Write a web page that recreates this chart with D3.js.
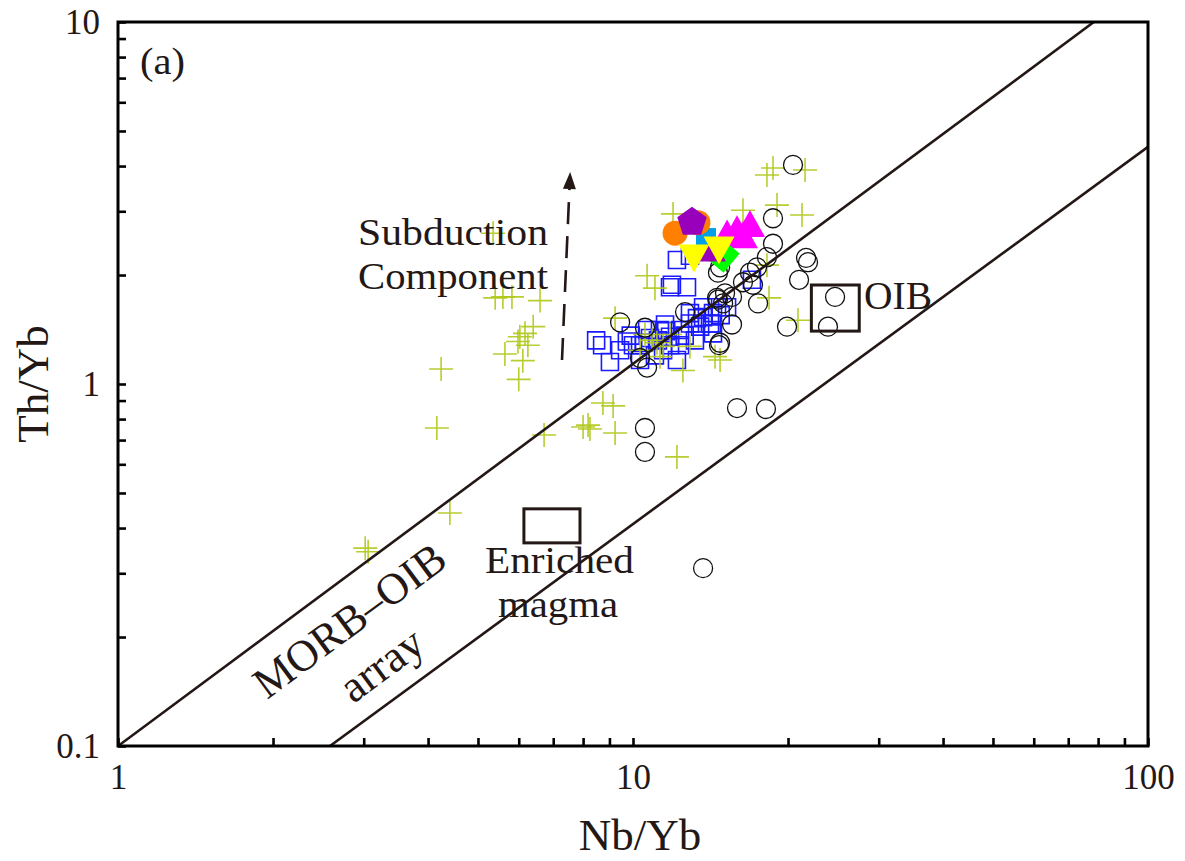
<!DOCTYPE html>
<html>
<head>
<meta charset="utf-8">
<script src="https://cdn.jsdelivr.net/npm/d3@7"></script>
<style>
  body { margin: 0; background: #fff; }
  text { font-family: "Liberation Serif", "Times New Roman", serif; fill: #231815; }
</style>
</head>
<body>
<svg id="chart" width="1185" height="861"></svg>
<script>
// ---- data: [Nb/Yb, Th/Yb] ----
const plusSamples = [
  [4.24,1.10],[4.16,0.756],[5.64,1.21],[6.00,1.03],[6.11,1.16],[6.03,1.35],[6.17,1.38],
  [6.40,1.44],[5.98,1.31],[6.25,1.28],[5.40,1.73],[5.59,1.74],[5.82,1.74],[6.60,1.70],
  [5.35,2.61],[6.72,0.723],[8.00,0.761],[8.18,0.770],[8.25,0.751],[8.74,0.886],[9.15,0.870],
  [9.23,0.732],[4.41,0.440],[3.06,0.344],[3.02,0.352],[12.17,0.629],[16.35,3.02],[10.65,1.99],
  [11.03,1.84],[11.96,2.95],[18.70,3.95],[18.20,3.78],[21.58,3.90],[19.04,3.12],[21.29,2.93],
  [18.37,1.73],[20.91,1.50],[18.20,2.13],[11.13,1.30],[11.44,1.27],[10.89,1.32],[11.28,1.19],
  [12.50,1.09],[14.43,1.19],[14.76,1.165],[9.23,1.52],[10.32,1.24],[11.80,1.37],[10.55,1.37],
  [12.90,1.27]
];
const squareSamples = [
  [8.48,1.32],[8.71,1.28],[9.02,1.15],[9.73,1.31],[10.0,1.28],[10.32,1.28],[10.79,1.34],
  [11.18,1.32],[11.44,1.24],[11.80,1.28],[12.17,1.165],[12.34,1.28],[12.90,1.47],[13.31,1.52],
  [13.68,1.53],[14.23,1.47],[14.30,1.38],[13.68,1.63],[14.56,1.63],[11.80,1.85],[12.73,1.85],
  [11.80,1.35],[11.28,1.41],[12.34,1.41],[12.90,1.57],[10.65,1.41],[12.17,2.20],[12.90,2.26],
  [11.90,1.88],[17.02,1.94],[15.23,1.63],[14.11,1.47],[14.30,1.57],[9.44,1.24],[11.03,1.20],
  [13.19,1.32],[10.32,1.165],[11.54,1.46],[9.90,1.36],[10.50,1.30],[11.60,1.40],[12.60,1.36],
  [13.50,1.44],[14.80,1.55]
];
const circleSamples = [
  [9.44,1.48],[10.55,1.43],[10.32,1.18],[10.65,1.11],[10.55,0.756],[10.55,0.649],[12.62,1.58],
  [14.56,1.73],[14.76,2.10],[14.62,2.03],[15.09,1.78],[14.62,1.71],[15.57,1.46],[14.76,1.30],
  [14.69,1.28],[15.92,0.858],[18.12,0.853],[13.68,0.310],[16.35,1.91],[16.87,2.03],[17.41,2.10],
  [18.20,2.24],[18.70,2.44],[18.70,2.87],[20.45,4.03],[21.68,2.23],[21.87,2.17],[21.01,1.94],
  [17.49,1.67],[19.91,1.44],[24.68,1.74],[23.91,1.44],[17.10,1.88],[14.96,1.67],[15.57,1.74]
];
const orangeCircles   = [[12.07,2.61],[13.37,2.79]];
const purplePentagons = [[13.02,2.80]];
const cyanSquares     = [[13.86,2.53]];
const yellowDownTris  = [[13.13,2.27],[14.69,2.39]];
const purpleTris      = [[14.23,2.32]];
const greenDiamonds   = [[14.89,2.27]];
const magentaTris     = [[15.23,2.56],[15.92,2.63],[16.87,2.72],[16.35,2.53]];

// reference array bounds and fields
const arrayLines = [
  { x1: 1, y1: 0.1, x2: 78.5, y2: 10 },
  { x1: 2.58, y1: 0.1, x2: 100, y2: 4.52 }
];
const fieldBoxes = [
  { x1: 6.14, x2: 7.89, y1: 0.364, y2: 0.452 },
  { x1: 22.2, x2: 27.5, y1: 1.40, y2: 1.877 }
];
const subductionArrow = { x1: 7.28, y1: 1.165, x2: 7.55, y2: 3.85 };

const xMajor = [1, 10, 100];
const yMajor = [0.1, 1, 10];
const xTicks = [1,2,3,4,5,6,7,8,9,10,20,30,40,50,60,70,80,90,100];
const yTicks = [0.1,0.2,0.3,0.4,0.5,0.6,0.7,0.8,0.9,1,2,3,4,5,6,7,8,9,10];

// ---- layout ----
const svg = d3.select("#chart");
const L = 118, R = 1148, T = 22, B = 746;
const ink = "#231815";

const x = d3.scaleLog().domain([1, 100]).range([L, R]);
const y = d3.scaleLog().domain([0.1, 10]).range([B, T]);

svg.append("defs").append("clipPath").attr("id", "plotClip")
  .append("rect").attr("x", L).attr("y", T).attr("width", R - L).attr("height", B - T);

const plot = svg.append("g").attr("clip-path", "url(#plotClip)");

// ---- marker shapes ----
const crossPath = a => `M${-a},0H${a}M0,${-a}V${a}`;
const polyPath = pts => "M" + pts.map(p => p.join(",")).join("L") + "Z";
const triUp = (w, h) => polyPath([[0, -h * 0.62], [w / 2, h * 0.38], [-w / 2, h * 0.38]]);
const triDown = (w, h) => polyPath([[0, h * 0.62], [w / 2, -h * 0.38], [-w / 2, -h * 0.38]]);
const pentagon = r => polyPath(d3.range(5).map(k => {
  const a = -Math.PI / 2 + k * 2 * Math.PI / 5;
  return [r * Math.cos(a), r * Math.sin(a)];
}));
const square = s => polyPath([[-s / 2, -s / 2], [s / 2, -s / 2], [s / 2, s / 2], [-s / 2, s / 2]]);

function markers(data, d, opts) {
  plot.append("g").selectAll("path").data(data).join("path")
    .attr("transform", p => `translate(${x(p[0])},${y(p[1])})` + (opts.rotate ? ` rotate(${opts.rotate})` : ""))
    .attr("d", d)
    .attr("fill", opts.fill || "none")
    .attr("stroke", opts.stroke || "none")
    .attr("stroke-width", opts.sw || 0)
    .attr("opacity", opts.opacity || 1);
}

// open symbols
markers(squareSamples, square(17), { stroke: "#1a1aff", sw: 1.6 });
markers(plusSamples, crossPath(12), { stroke: "#afc81a", sw: 1.6, opacity: 0.9 });
plot.append("g").selectAll("circle").data(circleSamples).join("circle")
  .attr("cx", p => x(p[0])).attr("cy", p => y(p[1])).attr("r", 9.5)
  .attr("fill", "none").attr("stroke", "#111").attr("stroke-width", 1.3);

// MORB-OIB array bounds
plot.append("g").selectAll("line").data(arrayLines).join("line")
  .attr("x1", d => x(d.x1)).attr("y1", d => y(d.y1))
  .attr("x2", d => x(d.x2)).attr("y2", d => y(d.y2))
  .attr("stroke", ink).attr("stroke-width", 2.6);

// filled symbols
markers(magentaTris, triUp(30, 27), { fill: "#ff00ff" });
markers(cyanSquares, square(20), { fill: "#00a0e9" });
markers(greenDiamonds, square(25), { fill: "#00ff00", rotate: 40 });
markers(purpleTris, triUp(28, 26), { fill: "#9900bb" });
plot.append("g").selectAll("circle").data(orangeCircles).join("circle")
  .attr("cx", p => x(p[0])).attr("cy", p => y(p[1])).attr("r", 12.5)
  .attr("fill", "#ff7f00");
markers(purplePentagons, pentagon(15.5), { fill: "#9900bb" });
markers(yellowDownTris, triDown(31, 28), { fill: "#ffff00" });

// compositional fields
svg.append("g").selectAll("rect").data(fieldBoxes).join("rect")
  .attr("x", d => x(d.x1)).attr("y", d => y(d.y2))
  .attr("width", d => x(d.x2) - x(d.x1)).attr("height", d => y(d.y1) - y(d.y2))
  .attr("fill", "none").attr("stroke", ink).attr("stroke-width", 3);

// subduction component arrow
{
  const a = subductionArrow;
  const x1 = x(a.x1), y1 = y(a.y1), x2 = x(a.x2), y2 = y(a.y2);
  const ang = Math.atan2(y2 - y1, x2 - x1);
  const headLen = 17, headW = 6.5;
  const bx = x2 - headLen * Math.cos(ang), by = y2 - headLen * Math.sin(ang);
  svg.append("line")
    .attr("x1", x1).attr("y1", y1).attr("x2", bx).attr("y2", by)
    .attr("stroke", ink).attr("stroke-width", 2.6).attr("stroke-dasharray", "22,12");
  const px = -Math.sin(ang), py = Math.cos(ang);
  svg.append("path")
    .attr("d", polyPath([[x2, y2], [bx + headW * px, by + headW * py], [bx - headW * px, by - headW * py]]))
    .attr("fill", ink);
}

// ---- axes ----
const fmt = d => (d === 0.1 ? "0.1" : String(d));
const xAxis = d3.axisBottom(x).tickValues(xTicks)
  .tickSizeInner(-8).tickSizeOuter(0).tickPadding(18)
  .tickFormat(d => xMajor.includes(d) ? fmt(d) : "");
const yAxis = d3.axisLeft(y).tickValues(yTicks)
  .tickSizeInner(-8).tickSizeOuter(0).tickPadding(18)
  .tickFormat(d => yMajor.includes(d) ? fmt(d) : "");

const gx = svg.append("g").attr("transform", `translate(0,${B})`).call(xAxis);
const gy = svg.append("g").attr("transform", `translate(${L},0)`).call(yAxis);
[gx, gy].forEach(g => {
  g.select(".domain").remove();
  g.selectAll(".tick line").attr("stroke", "#000").attr("stroke-width", 2.6);
  g.selectAll(".tick text").attr("font-size", 35)
    .attr("font-family", "'Liberation Serif', 'Times New Roman', serif").attr("fill", "#111");
});

// frame
svg.append("rect").attr("x", L).attr("y", T).attr("width", R - L).attr("height", B - T)
  .attr("fill", "none").attr("stroke", "#000").attr("stroke-width", 3);

// axis titles
svg.append("text").attr("x", (L + R) / 2 + 7).attr("y", 850)
  .attr("text-anchor", "middle").attr("font-size", 45).text("Nb/Yb");
svg.append("text").attr("transform", `translate(48,${(T + B) / 2}) rotate(-90)`)
  .attr("text-anchor", "middle").attr("font-size", 45).text("Th/Yb");

// annotations
const notes = [
  { t: "(a)", x: 140, y: 74, size: 38, anchor: "start", len: 45 },
  { t: "Subduction", x: 358, y: 245, size: 38, anchor: "start", len: 190 },
  { t: "Component", x: 358, y: 289, size: 38, anchor: "start", len: 190 },
  { t: "OIB", x: 864, y: 309, size: 40, anchor: "start", len: 68 },
  { t: "Enriched", x: 485, y: 573, size: 38, anchor: "start", len: 149 },
  { t: "magma", x: 498, y: 617, size: 38, anchor: "start", len: 120 }
];
svg.append("g").selectAll("text").data(notes).join("text")
  .attr("x", d => d.x).attr("y", d => d.y).attr("font-size", d => d.size)
  .attr("text-anchor", d => d.anchor)
  .attr("textLength", d => d.len).attr("lengthAdjust", "spacingAndGlyphs")
  .text(d => d.t);

const angle = Math.atan2(y(arrayLines[0].y2) - y(arrayLines[0].y1), x(arrayLines[0].x2) - x(arrayLines[0].x1)) * 180 / Math.PI;
svg.append("text").attr("transform", `translate(349,620) rotate(${angle})`)
  .attr("text-anchor", "middle").attr("dy", "0.35em").attr("font-size", 44).text("MORB–OIB");
svg.append("text").attr("transform", `translate(381,664) rotate(${angle})`)
  .attr("text-anchor", "middle").attr("dy", "0.35em").attr("font-size", 45).text("array");
</script>
</body>
</html>
